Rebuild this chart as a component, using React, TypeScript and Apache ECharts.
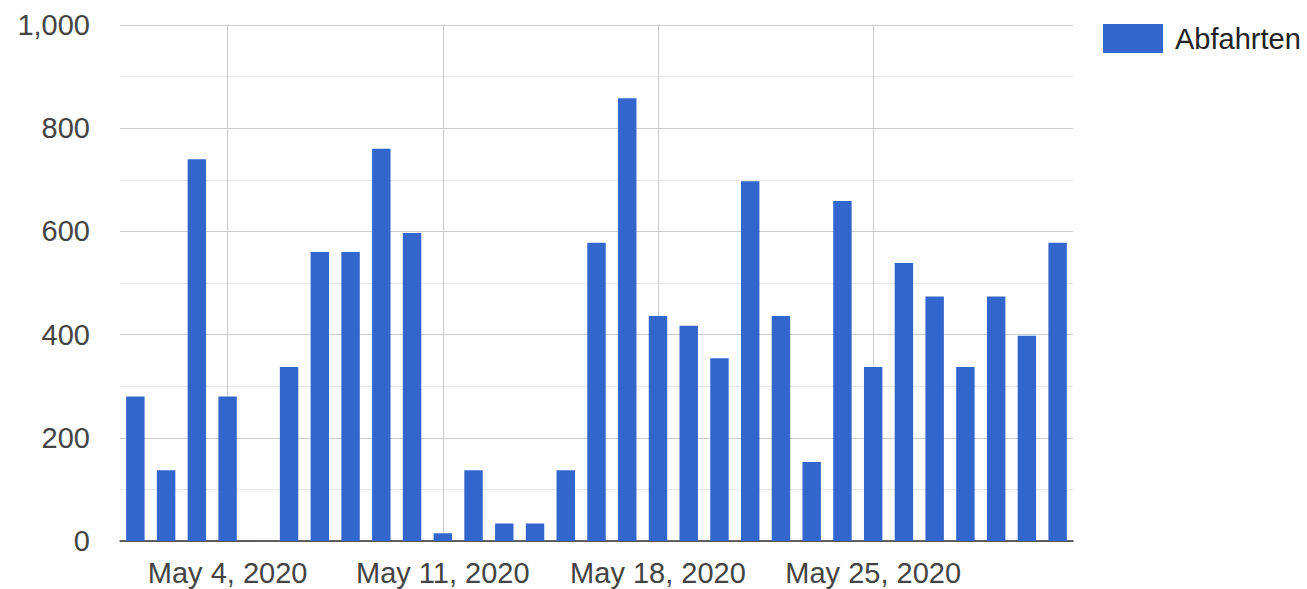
import React, { useEffect, useRef } from "react";
import * as echarts from "echarts";

const categories: string[] = [
  "May 1, 2020", "May 2, 2020", "May 3, 2020", "May 4, 2020", "May 5, 2020",
  "May 6, 2020", "May 7, 2020", "May 8, 2020", "May 9, 2020", "May 10, 2020",
  "May 11, 2020", "May 12, 2020", "May 13, 2020", "May 14, 2020", "May 15, 2020",
  "May 16, 2020", "May 17, 2020", "May 18, 2020", "May 19, 2020", "May 20, 2020",
  "May 21, 2020", "May 22, 2020", "May 23, 2020", "May 24, 2020", "May 25, 2020",
  "May 26, 2020", "May 27, 2020", "May 28, 2020", "May 29, 2020", "May 30, 2020",
  "May 31, 2020",
];

const abfahrten: number[] = [
  280, 137, 740, 280, 0, 337, 560, 560, 760, 597,
  15, 137, 34, 34, 137, 578, 858, 436, 417, 354,
  697, 436, 153, 659, 337, 539, 474, 337, 474, 398,
  578,
];

const tickLabels: string[] = ["May 4, 2020", "May 11, 2020", "May 18, 2020", "May 25, 2020"];

const seriesName = "Abfahrten";

const FONT = "'Liberation Sans', Arial, Helvetica, sans-serif";

export default function App() {
  const ref = useRef<HTMLDivElement>(null);

  useEffect(() => {
    if (!ref.current) return;
    const chart = echarts.init(ref.current, undefined, { renderer: "svg" });
    chart.setOption({
      animation: false,
      backgroundColor: "#ffffff",
      textStyle: { fontFamily: FONT },
      grid: { left: 120, right: 234, top: 25, bottom: 48, containLabel: false },
      legend: {
        show: true,
        left: 1103,
        top: 24,
        padding: 0,
        itemWidth: 60,
        itemHeight: 29,
        icon: "rect",
        data: [seriesName],
        textStyle: { fontFamily: FONT, fontSize: 29, color: "#222", padding: [0, 0, 0, 7] },
      },
      xAxis: {
        type: "category",
        data: categories,
        boundaryGap: true,
        axisLine: { show: true, lineStyle: { color: "#333", width: 1.5 } },
        axisTick: { show: false },
        splitLine: { show: false },
        axisLabel: {
          interval: (_i: number, v: string) => tickLabels.includes(v),
          fontFamily: FONT,
          fontSize: 29,
          color: "#444",
          margin: 17,
        },
      },
      yAxis: {
        type: "value",
        min: 0,
        max: 1000,
        interval: 200,
        axisLine: { show: false },
        axisTick: { show: false },
        axisLabel: {
          fontFamily: FONT,
          fontSize: 29,
          color: "#444",
          margin: 30,
          formatter: (v: number) => v.toLocaleString("en-US"),
        },
        splitLine: { show: true, lineStyle: { color: "#cccccc", width: 1 } },
        minorTick: { show: false, splitNumber: 2 },
        minorSplitLine: { show: true, lineStyle: { color: "#e6e6e6", width: 1 } },
      },
      series: [
        {
          name: seriesName,
          type: "bar",
          data: abfahrten,
          barCategoryGap: "40%",
          itemStyle: { color: "#3366cc" },
          z: 2,
          markLine: {
            silent: true,
            z: 1,
            symbol: ["none", "none"],
            label: { show: false },
            lineStyle: { color: "#cccccc", width: 1, type: "solid" },
            emphasis: { disabled: true },
            data: tickLabels.map((t) => ({ xAxis: t })),
          },
        },
      ],
    });
    return () => chart.dispose();
  }, []);

  return (
    <div
      ref={ref}
      style={{ position: "fixed", left: 0, top: 0, width: 1307, height: 589, background: "#fff" }}
    />
  );
}
